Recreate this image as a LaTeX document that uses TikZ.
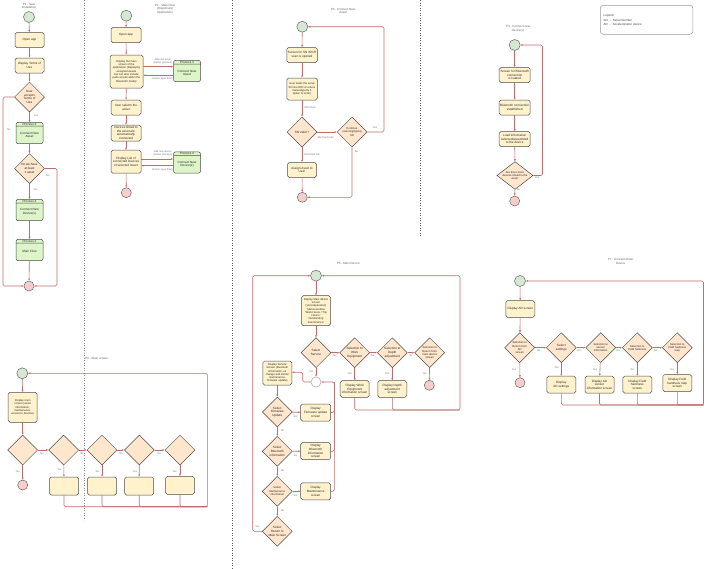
\documentclass[tikz,border=0pt]{standalone}
\usepackage{fontspec}
\setmainfont{Liberation Sans}
\usetikzlibrary{shapes.geometric,shapes.multipart,arrows.meta,calc}
\definecolor{boxfill}{HTML}{FFF2CC}
\definecolor{diafill}{HTML}{FFE6CC}
\definecolor{procfill}{HTML}{DDF5C9}
\definecolor{startfill}{HTML}{D5E8D4}
\definecolor{endfill}{HTML}{F8CECC}
\definecolor{connc}{HTML}{C06C69}
\definecolor{lblc}{HTML}{707070}
\tikzset{
 base/.style={font=\fontsize{3.1}{3.7}\selectfont, align=center, inner sep=0.5pt, line width=0.5pt, draw=black!70, text=black!85},
 box/.style={base, rectangle, fill=boxfill, rounded corners=1.8pt, minimum width=29pt, minimum height=15pt},
 dia/.style={base, diamond, fill=diafill, minimum width=30pt, minimum height=30pt, inner sep=0pt},
 proc/.style={base, rectangle split, rectangle split parts=2, fill=procfill, rounded corners=2pt, minimum width=27pt},
 startc/.style={circle, draw=black!60, fill=startfill, minimum size=11pt, inner sep=0pt, line width=0.5pt},
 endc/.style={circle, draw=black!60, fill=endfill, minimum size=10pt, inner sep=0pt, line width=0.5pt},
 mergec/.style={circle, draw=black!35, fill=white, minimum size=10pt, inner sep=0pt, line width=0.5pt},
 conn/.style={draw=connc, line width=0.6pt, rounded corners=1.5pt, -{Latex[length=2.2pt,width=2pt]}},
 seg/.style={draw=connc, line width=0.6pt, rounded corners=1.5pt},
 lbl/.style={font=\fontsize{2.5}{3}\selectfont, text=lblc, inner sep=0.2pt, align=center},
 ttl/.style={font=\fontsize{3}{3.6}\selectfont, text=black!60, align=center, inner sep=0pt},
 sepline/.style={black!45, line width=0.5pt, dotted},
 small/.style={font=\fontsize{2.75}{3.3}\selectfont},
}
\newcommand{\pbody}[1]{\parbox[c][16pt][c]{25pt}{\centering #1}}
\begin{document}
\begin{tikzpicture}[x=1pt,y=-1pt]
\fill[white] (0,0) rectangle (707,568);
\useasboundingbox (0,0) rectangle (707,568);
% separators
\draw[sepline] (84,0) -- (84,520);
\draw[sepline, black!65] (232,0) -- (232,568);
\draw[sepline, black!65] (420,0) -- (420,237);

% ---------------- P1
\node[ttl] (p1t) at (29,6) {P1 - New\\Installation};
\node[startc] (p1s) at (29,17) {};
\node[box] (p1a) at (29.5,40) {Open app};
\node[box] (p1b) at (29.5,65.5) {Display Terms of\\Use};
\node[dia] (p1d1) at (29.5,97) {User\\accepts\\Terms of\\Use};
\node[proc] (p1p3) at (29.5,133) {Process 3\nodepart{two}\pbody{Connect New\\Asset}};
\node[dia] (p1d2) at (29.5,168.5) {Do we have\\at least\\1 asset};
\node[proc] (p1p4) at (29.5,210) {Process 4\nodepart{two}\pbody{Connect New\\Device(s)}};
\node[proc] (p1p2) at (29.5,250) {Process 2\nodepart{two}\pbody{Main Flow}};
\node[endc] (p1e) at (29,286) {};
\coordinate (p1L) at (3,286);
\coordinate (p1R) at (57,286);
\draw[conn] (p1s) -- (p1a);
\draw[conn] (p1a) -- (p1b);
\draw[conn] (p1b) -- (p1d1);
\draw[conn] (p1d1) -- (p1p3);
\draw[conn] (p1p3) -- (p1d2);
\draw[conn] (p1d2) -- (p1p4);
\draw[conn] (p1p4) -- (p1p2);
\draw[conn] (p1p2) -- (p1e);
\draw[conn] (p1d1.west) -| (p1L) -- (p1e.west);
\draw[conn] (p1d2.east) -| (p1R) -- (p1e.east);
\node[lbl] (p1y1) at (36,116) {Yes};
\node[lbl] (p1n1) at (9,130) {No};
\node[lbl] (p1n2) at (48,176) {No};
\node[lbl] (p1y2) at (35.5,190) {Yes};

% ---------------- P2
\node[ttl] (p2t) at (165,9) {P2 - Main Flow\\(Dispensing\\Application)};
\node[startc] (p2s) at (126.3,15.7) {};
\node[box, minimum width=30pt] (p2a) at (126,35) {Open app};
\node[box, small, minimum width=33pt, minimum height=33pt] (p2b) at (126.5,71.5) {Display the main\\screen of the\\application (displaying\\assigned assets\\but can also include\\parts screen within the\\Bluetooth mode)};
\node[proc] (p2p3) at (187,71) {Process 3\nodepart{two}\pbody{Connect New\\Asset}};
\node[box, minimum width=30pt] (p2c) at (126,107.5) {User selects the\\asset};
\node[box, minimum width=30pt, minimum height=16pt] (p2d) at (126,133) {Devices linked to\\the asset are\\automatically\\connected};
\node[box, minimum width=30pt, minimum height=23pt] (p2e) at (126,161.7) {Display List of\\connected Devices\\of selected Asset};
\node[proc] (p2p4) at (187,162.5) {Process 4\nodepart{two}\pbody{Connect New\\Device(s)}};
\node[endc] (p2end) at (126.3,192.7) {};
\draw[conn] (p2s) -- (p2a);
\draw[conn] (p2a) -- (p2b);
\draw[conn] (p2b) -- (p2c);
\draw[conn] (p2c) -- (p2d);
\draw[conn] (p2d) -- (p2e);
\draw[conn] (p2e) -- (p2end);
\path ([yshift=4.8pt]p2b.east) coordinate (p2k1);
\path ([yshift=-4.3pt]p2p3.west) coordinate (p2k2);
\draw[conn] (p2k1) -- (p2k1 -| p2p3.west);
\draw[conn] (p2k2) -- (p2k2 -| p2b.east);
\path ([yshift=2.7pt]p2e.east) coordinate (p2k3);
\path ([yshift=-3.2pt]p2p4.west) coordinate (p2k4);
\draw[conn] (p2k3) -- (p2k3 -| p2p4.west);
\draw[conn] (p2k4) -- (p2k4 -| p2e.east);
\node[lbl] (p2l1) at (162.7,61.5) {Add new asset\\(button pressed)};
\node[lbl] (p2l2) at (162.7,78.5) {Return upon finish};
\node[lbl] (p2l3) at (162.7,153.5) {Add new device\\(button pressed)};
\node[lbl] (p2l4) at (162.7,170) {Return upon finish};

% ---------------- P3
\node[ttl] (p3t) at (343,11) {P3 - Connect New\\Asset};
\node[startc] (p3s) at (302.3,26.7) {};
\node[box, minimum width=30.5pt] (p3a) at (302,55) {Screen for SN /OCR\\scan is opened};
\node[box, small, minimum width=30.5pt, minimum height=22pt] (p3b) at (302,89) {User loads the serial\\SN via OCR or enters\\manually(only 1\\option to enter)};
\node[dia] (p3d1) at (302,132) {SN Valid ?};
\node[dia, small] (p3d2) at (352,132) {Continue\\scanning/typing\\SN};
\node[box] (p3c) at (302,170) {Assign Asset to\\User};
\node[endc] (p3e) at (302.3,197.3) {};
\coordinate (p3R) at (384,26.7);
\draw[conn] (p3s) -- (p3a);
\draw[conn] (p3a) -- (p3b);
\draw[conn] (p3b) -- (p3d1);
\draw[conn] (p3d1) -- (p3d2);
\draw[conn] (p3d1) -- (p3c);
\draw[conn] (p3c) -- (p3e);
\draw[conn] (p3d2.east) -| (p3R) -- (p3s.east);
\draw[conn] (p3d2.south) |- (p3e.east);
\node[lbl] (p3l1) at (310,108) {SN Check};
\node[lbl] (p3l2) at (325.5,137.3) {SN Check Fail};
\node[lbl] (p3l3) at (312,155) {SN Check OK};
\node[lbl] (p3y) at (375,128) {Yes};
\node[lbl] (p3n) at (356.5,152) {No};

% ---------------- P4
\node[ttl] (p4t) at (518,29) {P4 - Connect new\\device(s)};
\node[startc] (p4s) at (514.7,45) {};
\node[box, minimum width=31pt] (p4a) at (514.7,75) {Screen for Bluetooth\\connection\\is loaded};
\node[box, minimum width=31pt] (p4b) at (514.7,107.5) {Bluetooth connection\\established};
\node[box, minimum width=31pt] (p4c) at (514.7,139) {Load information\\selected/assembled\\to the device};
\node[dia, small, aspect=1.3, minimum width=30pt, minimum height=23pt] (p4d) at (515,175.5) {Are there more\\devices linked to the\\asset};
\node[endc] (p4e) at (514.7,201) {};
\coordinate (p4R) at (542.5,45);
\draw[conn] (p4s) -- (p4a);
\draw[conn] (p4a) -- (p4b);
\draw[conn] (p4b) -- (p4c);
\draw[conn] (p4c) -- (p4d);
\draw[conn] (p4d) -- (p4e);
\draw[conn] (p4d.east) -| (p4R) -- (p4s.east);
\node[lbl] (p4y) at (537,178) {Yes};
\node[lbl] (p4n) at (518.5,190) {No};

% Legend
\node[draw=black!40, line width=0.5pt, rounded corners=3pt, minimum width=91pt, minimum height=29pt, anchor=north west, text width=86pt, align=left, font=\fontsize{3}{3.7}\selectfont, text=black!75] (leg) at (600,5) {Legend:\\[1.5pt]SN \ - \ Serial Number\\AD \ - \ Accelerometer device};

% ---------------- P5
\node[ttl] (p5t) at (348.3,263.3) {P5 - Main Device};
\node[startc] (p5s) at (316,275.7) {};
\node[box, small, minimum height=30pt] (p5a) at (316,310.7) {Display Main device\\screen\\(soil preparation)\\Status window\\'Work Hours / Trip\\Hours /\\Outstanding\\maintenance'};
\node[dia] (p5d1) at (316,352.7) {Select\\Service};
\node[dia] (p5d2) at (354.7,352.7) {Selection to\\Work\\Equipment};
\node[dia] (p5d3) at (392.3,352.7) {Selection to\\Depth\\adjustment};
\node[dia, small] (p5d4) at (429.7,352.7) {Selection to\\Return from\\main device\\screen};
\node[mergec] (p5m) at (316,382) {};
\node[box, minimum height=16.7pt] (p5b2) at (354.7,389) {Display Work\\Equipment\\information screen};
\node[box, minimum height=16.7pt] (p5b3) at (392.3,389) {Display Depth\\adjustment\\screen};
\node[endc] (p5e) at (429.3,385.3) {};
\node[box, small, minimum height=24pt] (p5sv) at (277.3,373) {Display Service\\Screen (bluetooth\\information, oil\\change and similar\\maintenance,\\firmware update)};
\node[dia] (p5f) at (277.3,412) {Select\\Firmware\\Update};
\node[box, minimum width=30pt, minimum height=17pt] (p5fb) at (315.7,412.5) {Display\\Firmware update\\screen};
\node[dia] (p5bt) at (277.3,451.3) {Select\\Bluetooth\\information};
\node[box, minimum width=30pt, minimum height=17pt] (p5bb) at (315.7,451.2) {Display\\Bluetooth\\information\\screen};
\node[dia, small] (p5mt) at (277.3,491.3) {Select\\Maintenance\\information};
\node[box, minimum width=30pt, minimum height=17pt] (p5mb) at (315.7,491.3) {Display\\Maintenance\\screen};
\node[dia] (p5r) at (277.3,531.3) {Select\\Return to\\Main Screen};
\coordinate (p5k) at (302.7,372.3);
\coordinate (p5v) at (334.3,382);
\coordinate (p5L) at (252.7,275.7);
\coordinate (p5R) at (460,275.7);
\coordinate (p5B) at (460,410);
\draw[conn] (p5s) -- (p5a);
\draw[conn] (p5a) -- (p5d1);
\draw[conn] (p5d1) -- (p5d2);
\draw[conn] (p5d2) -- (p5d3);
\draw[conn] (p5d3) -- (p5d4);
\draw[conn] (p5d1) -- (p5m);
\draw[conn] (p5d2) -- (p5b2);
\draw[conn] (p5d3) -- (p5b3);
\draw[conn] (p5d4) -- (p5e);
\draw[conn] (p5m.west) -| (p5k) -- (p5k -| p5sv.east);
\draw[conn] (p5sv) -- (p5f);
\draw[conn] (p5f) -- (p5fb);
\draw[conn] (p5f) -- (p5bt);
\draw[conn] (p5bt) -- (p5bb);
\draw[conn] (p5bt) -- (p5mt);
\draw[conn] (p5mt) -- (p5mb);
\draw[conn] (p5mt) -- (p5r);
\draw[seg] (p5fb.east) -| (p5v);
\draw[seg] (p5bb.east) -| (p5v);
\draw[conn] (p5mb.east) -| (p5v) -- (p5m.east);
\draw[conn] (p5r.west) -| (p5L) -- (p5s.west);
\draw[seg] (p5b2.south) |- (p5B);
\draw[conn] (p5b3.south) |- (p5B) -- (p5R) -- (p5s.east);
\node[lbl] (p5n1) at (334.5,356) {No};
\node[lbl] (p5n2) at (372.7,356) {No};
\node[lbl] (p5n3) at (411,356) {No};
\node[lbl] (p5y1) at (311.2,371.7) {Yes};
\node[lbl] (p5y2) at (349.7,373.3) {Yes};
\node[lbl] (p5y3) at (387,373.3) {Yes};
\node[lbl] (p5y4) at (424.7,373.3) {Yes};
\node[lbl] (p5y5) at (295.3,416.7) {Yes};
\node[lbl] (p5y6) at (295.3,455.7) {Yes};
\node[lbl] (p5y7) at (295.3,495.7) {Yes};
\node[lbl] (p5n4) at (282.5,431) {No};
\node[lbl] (p5n5) at (282.5,470.3) {No};
\node[lbl] (p5n6) at (282.5,510.3) {No};
\node[lbl] (p5y8) at (257.5,526.7) {Yes};

% ---------------- P6
\node[ttl] (p6t) at (96.7,358.3) {P6 - Main screen};
\node[startc] (p6s) at (22.3,373.3) {};
\node[box, small, minimum height=30pt] (p6a) at (22.7,407.3) {Display main\\screen (asset\\information,\\maintenance,\\access to devices)};
\node[dia] (p6d1) at (22.7,450) {};
\node[dia] (p6d2) at (63.7,450) {};
\node[dia] (p6d3) at (102,450) {};
\node[dia] (p6d4) at (139.3,450) {};
\node[dia] (p6d5) at (180,450) {};
\node[endc] (p6e) at (22.7,485) {};
\node[box, minimum height=18pt] (p6b2) at (64,486) {};
\node[box, minimum height=18pt] (p6b3) at (102,486) {};
\node[box, minimum height=18pt] (p6b4) at (139.2,486) {};
\node[box, minimum height=18pt] (p6b5) at (180,485.3) {};
\coordinate (p6B) at (207.3,506.7);
\coordinate (p6R) at (207.3,373.3);
\draw[conn] (p6s) -- (p6a);
\draw[conn] (p6a) -- (p6d1);
\draw[conn] (p6d1) -- (p6e);
\draw[conn] (p6d1) -- (p6d2);
\draw[conn] (p6d2) -- (p6d3);
\draw[conn] (p6d3) -- (p6d4);
\draw[conn] (p6d4) -- (p6d5);
\draw[conn] (p6d2) -- (p6b2);
\draw[conn] (p6d3) -- (p6b3);
\draw[conn] (p6d4) -- (p6b4);
\draw[conn] (p6d5) -- (p6b5);
\draw[seg] (p6b2.south) |- (p6B);
\draw[seg] (p6b3.south) |- (p6B);
\draw[seg] (p6b4.south) |- (p6B);
\draw[conn] (p6b5.south) |- (p6B) -- (p6R) -- (p6s.east);
\node[lbl] (p6n1) at (42,453.3) {No};
\node[lbl] (p6n2) at (82,453.3) {No};
\node[lbl] (p6n3) at (121,453.3) {No};
\node[lbl] (p6n4) at (159.3,453.3) {No};
\node[lbl] (p6y1) at (17.7,471.7) {Yes};
\node[lbl] (p6y2) at (59.3,470) {Yes};
\node[lbl] (p6y3) at (97.3,471.7) {Yes};
\node[lbl] (p6y4) at (135,471.7) {Yes};
\node[lbl] (p6y5) at (174.7,471.7) {Yes};

% ---------------- P7
\node[ttl] (p7t) at (620.7,261.5) {P7 - Accelerometer\\Device};
\node[startc] (p7s) at (520,281) {};
\node[box, minimum height=16.7pt] (p7a) at (520.3,309) {Display AD screen};
\node[dia, small] (p7d1) at (519.7,347.7) {Selection to\\Return from\\AD\\screen};
\node[dia] (p7d2) at (561.3,347.7) {Select\\settings};
\node[dia, small] (p7d3) at (600.7,347.7) {Selection to\\sensor\\information};
\node[dia, small] (p7d4) at (637.3,347.7) {Selection to\\Field hardness};
\node[dia, small] (p7d5) at (677.3,347.7) {Selection to\\Field hardness\\map};
\node[endc] (p7e) at (520,382.7) {};
\node[box, minimum height=17pt] (p7b2) at (561.3,384.7) {Display\\AD settings};
\node[box, minimum height=17pt] (p7b3) at (599.5,384.7) {Display AD\\sensor\\information screen};
\node[box, minimum height=17pt] (p7b4) at (637.3,384.7) {Display Field\\hardness\\screen};
\node[box, minimum height=17pt] (p7b5) at (677.3,383) {Display Field\\hardness map\\screen};
\coordinate (p7B) at (703.5,405);
\coordinate (p7R) at (703.5,281);
\draw[conn] (p7s) -- (p7a);
\draw[conn] (p7a) -- (p7d1);
\draw[conn] (p7d1) -- (p7e);
\draw[conn] (p7d1) -- (p7d2);
\draw[conn] (p7d2) -- (p7d3);
\draw[conn] (p7d3) -- (p7d4);
\draw[conn] (p7d4) -- (p7d5);
\draw[conn] (p7d2) -- (p7b2);
\draw[conn] (p7d3) -- (p7b3);
\draw[conn] (p7d4) -- (p7b4);
\draw[conn] (p7d5) -- (p7b5);
\draw[seg] (p7b2.south) |- (p7B);
\draw[seg] (p7b3.south) |- (p7B);
\draw[seg] (p7b4.south) |- (p7B);
\draw[conn] (p7b5.south) |- (p7B) -- (p7R) -- (p7s.east);
\node[lbl] (p7n1) at (538.7,351) {No};
\node[lbl] (p7n2) at (579.3,351) {No};
\node[lbl] (p7n3) at (618.3,351) {No};
\node[lbl] (p7n4) at (655.7,351) {No};
\node[lbl] (p7y1) at (514,369.3) {Yes};
\node[lbl] (p7y2) at (556.7,367.7) {Yes};
\node[lbl] (p7y3) at (595,369.3) {Yes};
\node[lbl] (p7y4) at (632.3,369.3) {Yes};
\node[lbl] (p7y5) at (672,369.3) {Yes};
\end{tikzpicture}
\end{document}
